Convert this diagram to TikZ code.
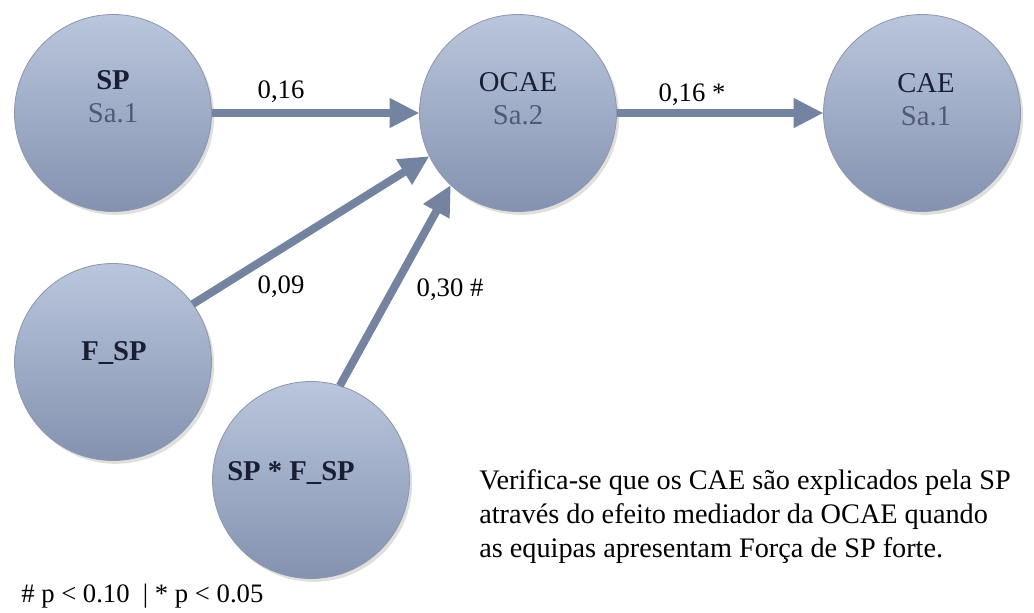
\documentclass[tikz,border=0pt]{standalone}
\usepackage{fontspec}
\setmainfont{Liberation Serif}
\usetikzlibrary{arrows.meta,shadows}
\definecolor{nodetop}{RGB}{186,198,220}
\definecolor{nodebot}{RGB}{132,146,176}
\definecolor{nodeline}{RGB}{140,150,172}
\definecolor{pathcol}{RGB}{116,131,160}
\definecolor{namecol}{RGB}{26,30,50}
\definecolor{sacol}{RGB}{80,90,120}

\begin{document}
\begin{tikzpicture}[x=0.75pt,y=0.75pt,yscale=-1,xscale=1,
    var/.style={circle,minimum size=147.75pt,inner sep=0pt,outer sep=0pt,draw=nodeline,line width=0.6pt,
      top color=nodetop,bottom color=nodebot,drop shadow={shadow xshift=2pt,shadow yshift=-2.5pt,opacity=0.25}},
    vname/.style={inner sep=0.75pt,align=center,text=namecol,font=\fontsize{21.5}{24.75}\selectfont},
    coef/.style={inner sep=0.75pt,font=\fontsize{20}{24}\selectfont},
    effect/.style={draw=pathcol,line width=6pt,-{Triangle[length=22.5pt,width=21pt]}}]
    \useasboundingbox (0,0) rectangle (1034,613);

    %Shape: Circle [SP]
    \node[var] (sp) at (113,113) {};
    %Shape: Circle [OCAE]
    \node[var] (ocae) at (518,113) {};
    %Shape: Circle [CAE]
    \node[var] (cae) at (922,113) {};
    %Shape: Circle [F_SP]
    \node[var] (fsp) at (113,362) {};
    %Shape: Circle [SP * F_SP]
    \node[var] (spfsp) at (311,480) {};

    %Straight Lines [paths]
    \draw[effect] (sp) -- (ocae);
    \draw[effect] (ocae) -- (cae);
    \draw[effect] (fsp.36) -- (ocae.206);
    \draw[effect] (spfsp.73) -- (ocae.227);

    % Text Node
    \node[vname] (spname) at (113,97) {\textbf{SP}\\\textcolor{sacol}{Sa.1}};
    % Text Node
    \node[vname] (ocaename) at (518,99) {OCAE\\\textcolor{sacol}{Sa.2}};
    % Text Node
    \node[vname] (caename) at (926,100) {CAE\\\textcolor{sacol}{Sa.1}};
    % Text Node
    \node[vname] (fspname) at (114,353) {\textbf{F\_SP}};
    % Text Node
    \node[vname] (spfspname) at (291,473) {\textbf{SP * F\_SP}};

    % Text Node
    \node[coef] (c1) at (281,92) {0,16};
    % Text Node
    \node[coef] (c2) at (692,95) {0,16 *};
    % Text Node
    \node[coef] (c3) at (281,287) {0,09};
    % Text Node
    \node[coef] (c4) at (450,290) {0,30 \#};

    % Text Node
    \node[coef,anchor=west,align=left,font=\fontsize{21.2}{25.5}\selectfont] (note) at (478,517)
      {Verifica-se que os CAE são explicados pela SP\\através do efeito mediador da OCAE quando\\as equipas apresentam Força de SP forte.};
    % Text Node
    \node[coef,anchor=west] (sig) at (20,596) {\# p < 0.10 \ | * p < 0.05};

\end{tikzpicture}
\end{document}
